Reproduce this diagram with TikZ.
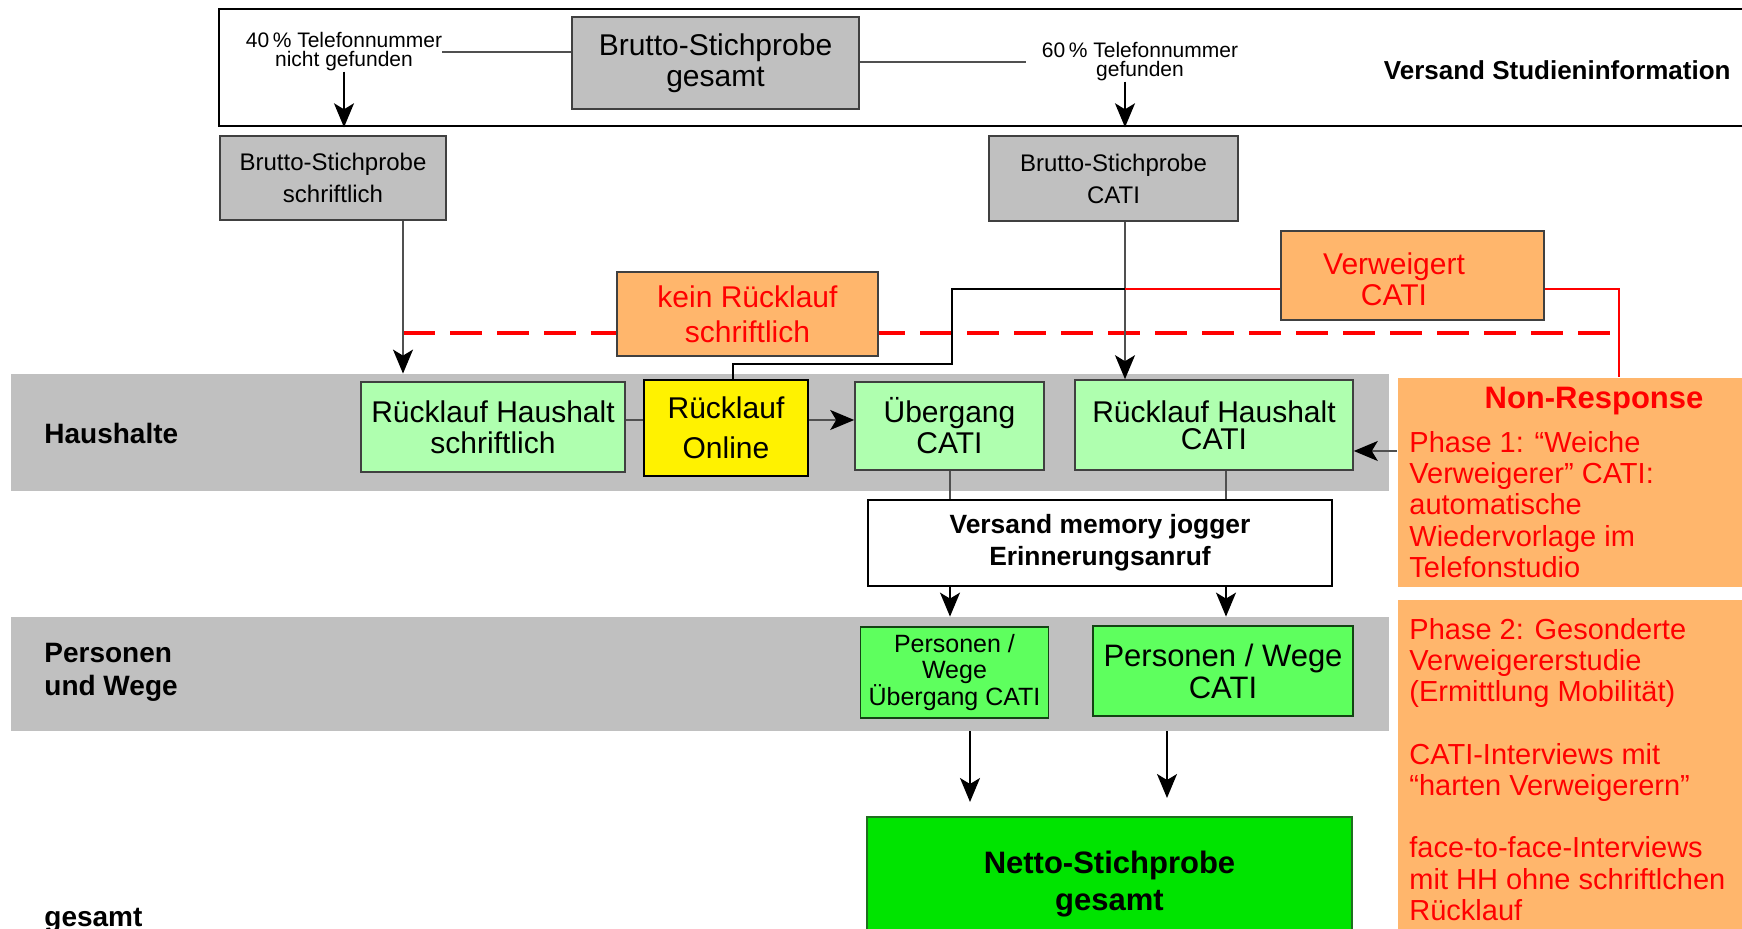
\documentclass[tikz,border=0pt]{standalone}
\usepackage{fontspec}
\setmainfont{Liberation Sans}
\usetikzlibrary{arrows.meta}
\definecolor{grayfill}{HTML}{C0C0C0}
\definecolor{lgreen}{HTML}{AFFFAF}
\definecolor{mgreen}{HTML}{5EFF5E}
\definecolor{bgreen}{HTML}{00E400}
\definecolor{dgreen}{HTML}{1F6F1F}
\definecolor{orng}{HTML}{FFB66C}
\definecolor{conn}{HTML}{505050}
\definecolor{edge}{HTML}{404040}
\newcommand{\fsz}[2]{\fontsize{#1}{#2}\selectfont}
\begin{document}
\begin{tikzpicture}[x=0.5pt,y=-0.5pt,
  box/.style={draw=edge, line width=0.8pt, inner sep=0pt, align=center},
  graybox/.style={box, fill=grayfill},
  lgbox/.style={box, fill=lgreen},
  mgbox/.style={box, fill=mgreen, draw=dgreen!60!black},
  obox/.style={box, fill=orng},
  band/.style={fill=grayfill, inner sep=0pt},
  lbl/.style={font=\bfseries\fsz{14pt}{16.5pt}, inner sep=0pt, align=left},
  smalltxt/.style={font=\fsz{10.5pt}{9.5pt}, inner sep=0pt, align=center},
  connline/.style={draw=conn, line width=0.8pt},
  tip/.style={connline, -{Stealth[length=12pt,width=10pt,inset=3pt,color=black]}},
]
\useasboundingbox (0,0) rectangle (1742,929);
\clip (0,0) rectangle (1742,929);

% bands
\node[band, minimum width=689pt, minimum height=58.5pt] (hhband) at (700,432.5) {};
\node[band, minimum width=689pt, minimum height=57pt] (pwband) at (700,674) {};

\node[lbl, anchor=west] (lhh) at (44,433) {Haushalte};
\node[lbl, anchor=west] (lpw) at (44,672) {Personen\\und Wege};
\node[lbl, anchor=west] (lges) at (44,920) {gesamt};

% top frame
\node[draw=black, line width=1.3pt, minimum width=765.5pt, minimum height=58.5pt, inner sep=0pt] (frame) at (984.5,67.5) {};

\node[graybox, minimum width=143.5pt, minimum height=46pt, font=\fsz{15pt}{15.5pt}] (brutto) at (715.5,63) {Brutto-Stichprobe\\gesamt};

\node[smalltxt] (t40) at (344,52) {40\,\% Telefonnummer\\nicht gefunden};
\node[smalltxt] (t60) at (1140,62) {60\,\% Telefonnummer\\gefunden};
\node[font=\bfseries\fsz{13pt}{15pt}, anchor=east, inner sep=0pt] (vsi) at (1731,70) {Versand Studieninformation};

\coordinate (a60) at (1125,0);
\coordinate (xs) at (403,0);

\draw[connline] (t40.east) -- (brutto.west |- t40.east);
\draw[connline] (brutto.east |- t60.west) -- ([xshift=-8pt]t60.west);
\draw[tip, draw=black] (t40.south) -- (t40.south |- frame.south);
\draw[tip, draw=black] (t60.south -| a60) -- (a60 |- frame.south);

% second row
\node[graybox, minimum width=113pt, minimum height=42pt, font=\fsz{12pt}{16pt}] (schr) at (333,178) {Brutto-Stichprobe\\schriftlich};
\node[graybox, minimum width=124.5pt, minimum height=42.5pt, font=\fsz{12pt}{16pt}] (cati) at (1113.5,178.5) {Brutto-Stichprobe\\CATI};

% dashed red line
\coordinate (dl) at (403,333);
\coordinate (dr) at (1622,333);
\draw[red, line width=2pt, dash pattern=on 16pt off 7.5pt] (dl) -- (dr);

\node[obox, minimum width=130.5pt, minimum height=42pt, font=\fsz{15pt}{17.5pt}, text=red] (kein) at (747.5,314) {kein Rücklauf\\schriftlich};
\node[obox, minimum width=131.5pt, minimum height=44.5pt] (verw) at (1412.5,275.5) {};
\node[font=\fsz{15pt}{15.5pt}, text=red, align=center, inner sep=0pt] (verwt) at (1394,279) {Verweigert\\CATI};

% household row
\node[lgbox, minimum width=132pt, minimum height=45pt, font=\fsz{15pt}{15.5pt}] (rhs) at (493,427) {Rücklauf Haushalt\\schriftlich};
\node[box, fill=yellow, draw=black, line width=1.3pt, minimum width=82pt, minimum height=48pt, font=\fsz{15pt}{20pt}] (online) at (726,428) {Rücklauf\\Online};
\node[lgbox, minimum width=94.5pt, minimum height=44pt, font=\fsz{15pt}{15.5pt}] (uec) at (949.5,426) {Übergang\\CATI};
\node[lgbox, minimum width=139pt, minimum height=45pt, font=\fsz{15pt}{13.3pt}] (rhc) at (1214,425) {Rücklauf Haushalt\\CATI};

% non-response boxes
\node[obox, draw=none, minimum width=176pt, minimum height=104.5pt] (nr) at (1574,482.5) {};
\node[obox, draw=none, minimum width=176pt, minimum height=167.5pt] (nr2) at (1574,767.5) {};
\node[font=\bfseries\fsz{15.5pt}{17pt}, text=red, inner sep=0pt] (nrt) at (1594,401) {Non-Response};
\node[font=\fsz{14.5pt}{15.6pt}, text=red, align=left, inner sep=0pt, anchor=north west] (ph1) at (1409,431) {Phase 1: “Weiche\\Verweigerer” CATI:\\automatische\\Wiedervorlage im\\Telefonstudio};
\node[font=\fsz{14.5pt}{15.6pt}, text=red, align=left, inner sep=0pt, anchor=north west] (ph2) at (1409,618) {Phase 2: Gesonderte\\Verweigererstudie\\(Ermittlung Mobilität)\\[15.6pt]CATI-Interviews mit\\“harten Verweigerern”\\[15.6pt]face-to-face-Interviews\\mit HH ohne schriftlchen\\Rücklauf};

% memory jogger
\node[box, fill=white, draw=black, line width=1.2pt, minimum width=232pt, minimum height=43pt, font=\bfseries\fsz{13.2pt}{16pt}] (vmj) at (1100,543) {Versand memory jogger\\Erinnerungsanruf};

% persons row
\node[mgbox, minimum width=94pt, minimum height=45.5pt, font=\fsz{12.5pt}{13.2pt}] (pwu) at (954.5,672.5) {Personen /\\Wege\\Übergang CATI};
\node[mgbox, minimum width=130pt, minimum height=45pt, font=\fsz{15.5pt}{16pt}] (pwc) at (1223,671) {Personen / Wege\\CATI};

\node[box, fill=bgreen, draw=dgreen, line width=1.2pt, minimum width=242.5pt, minimum height=60pt] (netto) at (1109.5,877) {};
\node[font=\bfseries\fsz{15.5pt}{18.5pt}, align=center, inner sep=0pt] (nettot) at (1109.5,884) {Netto-Stichprobe\\gesamt};

% connectors
\draw[tip] (schr.south -| xs) -- (xs |- hhband.north);
\draw[tip] (cati.south -| a60) -- (a60 |- rhc.north);

\coordinate (b1) at (952,364);
\coordinate (b2) at (1125,289);
\coordinate (b3) at (1619,289);
\draw[black, line width=1.1pt] ([xshift=3.5pt]online.north) |- (b1) |- (b2);
\draw[red, line width=1pt] (b2) -- (verw.west |- b2);
\draw[red, line width=1pt] (verw.east |- b3) -- (b3) -- (b3 |- nr.north);

\coordinate (y420) at (0,420);
\coordinate (y451) at (0,451);
\draw[connline] (rhs.east |- y420) -- (online.west |- y420);
\draw[tip] (online.east |- y420) -- (uec.west |- y420);
\draw[tip] (nr.west |- y451) -- (rhc.east |- y451);

\coordinate (xl) at (950,0);
\coordinate (xr) at (1226,0);
\draw[connline] (uec.south -| xl) -- (xl |- vmj.north);
\draw[connline] (rhc.south -| xr) -- (xr |- vmj.north);
\draw[tip, draw=black] (vmj.south -| xl) -- (xl |- pwband.north);
\draw[tip, draw=black] (vmj.south -| xr) -- (xr |- pwband.north);

\coordinate (xl2) at (970,802);
\coordinate (xr2) at (1167,798);
\draw[tip, draw=black] (pwband.south -| xl2) -- (xl2);
\draw[tip, draw=black] (pwband.south -| xr2) -- (xr2);
\end{tikzpicture}
\end{document}
